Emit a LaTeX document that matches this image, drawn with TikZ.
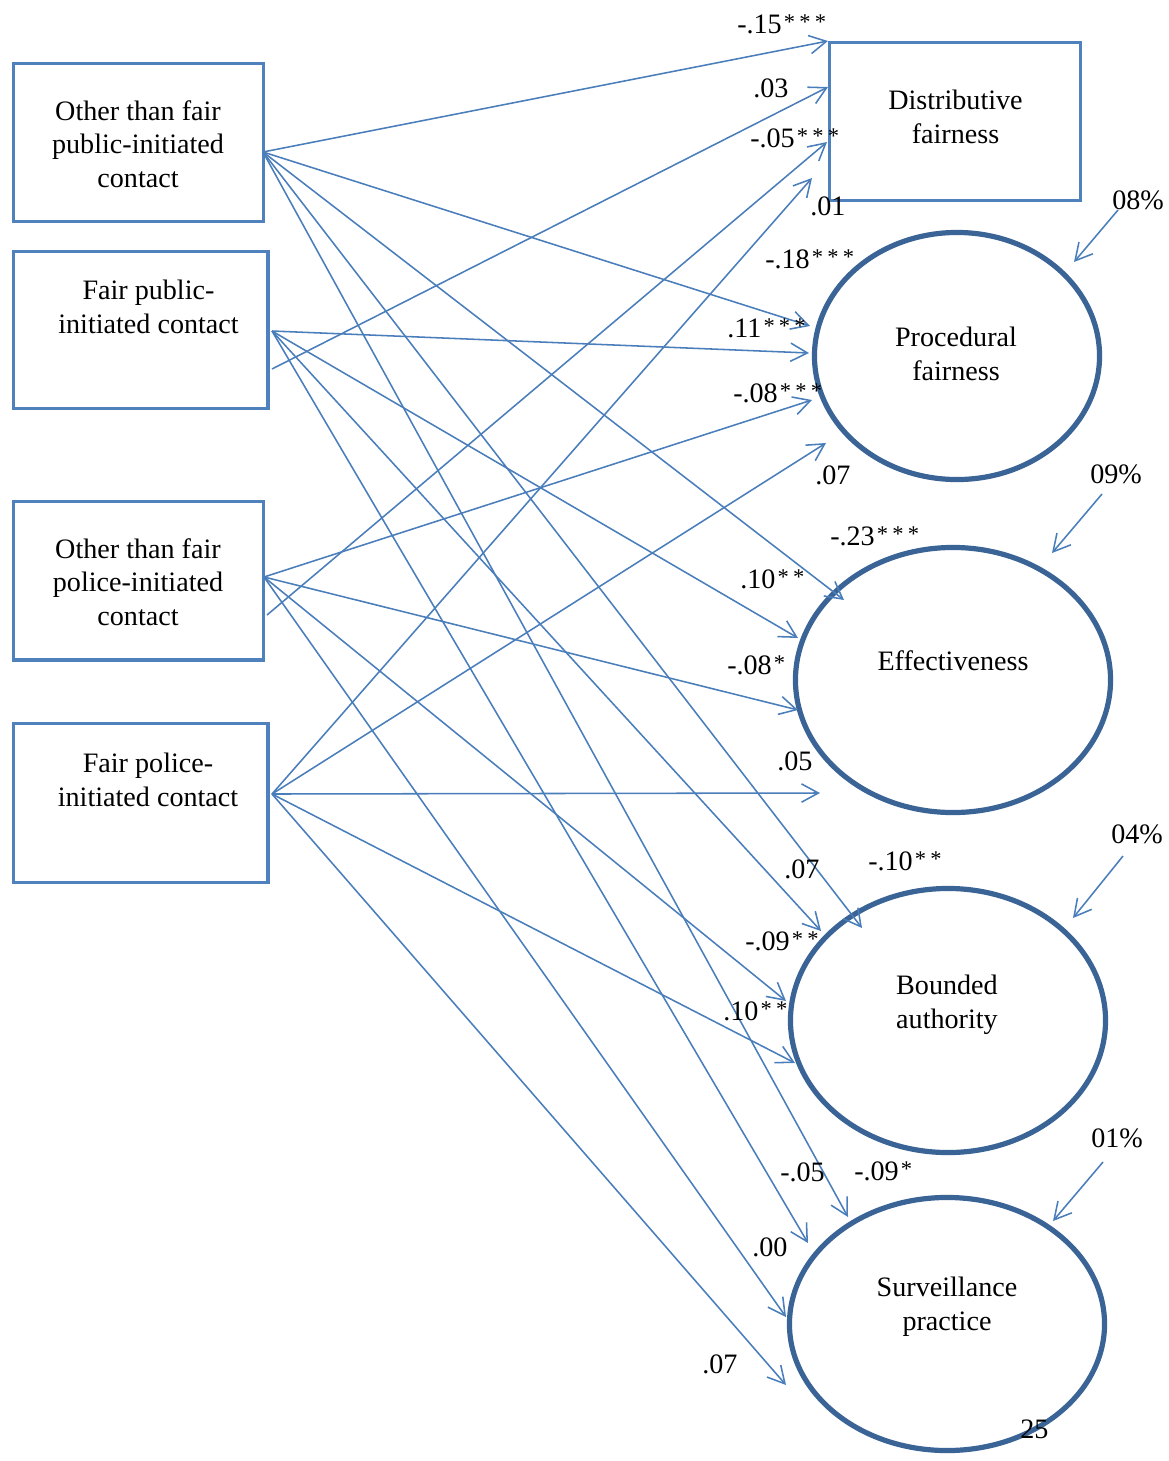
\documentclass[tikz,border=0pt]{standalone}
\usepackage{fontspec}
\setmainfont{Liberation Serif}
\usetikzlibrary{arrows.meta,shapes.geometric}
\definecolor{arr}{RGB}{74,126,187}
\definecolor{boxc}{RGB}{79,129,189}
\definecolor{ellc}{RGB}{58,99,150}
\newcommand{\sg}[1]{\hspace{1.5pt}\raisebox{2.5pt}{\fontsize{16pt}{16pt}\selectfont #1}}
\newcommand{\sa}{*}
\newcommand{\sgap}{\hspace{3pt}}
\begin{document}
\begin{tikzpicture}[x=0.025cm,y=-0.025cm,
 box/.style={draw=boxc,line width=2.3pt,rectangle,inner sep=0pt},
 ell/.style={draw=ellc,line width=3.7pt,ellipse,inner sep=0pt},
 txt/.style={font=\fontsize{20pt}{23.8pt}\selectfont,align=center,inner sep=0pt},
 lab/.style={font=\fontsize{20pt}{23.8pt}\selectfont,inner sep=0pt,anchor=base west},
 conn/.style={draw=arr,line width=1.1pt,-{Straight Barb[length=12pt,width=13pt,line width=1.1pt]}},
]
\useasboundingbox (0,0) rectangle (1169,1461);

% boxes
\node[box,minimum width=6.25cm,minimum height=3.95cm] (A) at (138.5,142.5) {};
\node[box,minimum width=6.3625cm,minimum height=3.925cm] (B) at (140.75,330) {};
\node[box,minimum width=6.25cm,minimum height=3.9625cm] (C) at (138.5,580.75) {};
\node[box,minimum width=6.3625cm,minimum height=3.975cm] (D) at (140.75,803) {};
\node[box,minimum width=6.275cm,minimum height=3.95cm] (DF) at (955,121.5) {};

% ellipses
\node[ell,minimum width=7.125cm,minimum height=6.175cm] (PF) at (957,356) {};
\node[ell,minimum width=7.875cm,minimum height=6.625cm] (EF) at (953,680) {};
\node[ell,minimum width=7.875cm,minimum height=6.6cm] (BA) at (948,1020.5) {};
\node[ell,minimum width=7.875cm,minimum height=6.325cm] (SP) at (947,1324) {};

% box and ellipse texts (anchor = baseline of last line)
\node[txt,anchor=base] (At) at (138,187) {Other than fair\\public-initiated\\contact};
\node[txt,anchor=base] (Bt) at (148.5,333) {Fair public-\\initiated contact};
\node[txt,anchor=base] (Ct) at (138,625) {Other than fair\\police-initiated\\contact};
\node[txt,anchor=base] (Dt) at (148,806) {Fair police-\\initiated contact};
\node[txt,anchor=base] (DFt) at (955.5,143) {Distributive\\fairness};
\node[txt,anchor=base] (PFt) at (956,380) {Procedural\\fairness};
\node[txt,anchor=base] (EFt) at (953,670) {Effectiveness};
\node[txt,anchor=base] (BAt) at (947,1028) {Bounded\\authority};
\node[txt,anchor=base] (SPt) at (947,1330) {Surveillance\\practice};

% connector end points
\coordinate (Ao) at (263,152);
\coordinate (Bo) at (272,331);
\coordinate (Bo2) at (272,369);
\coordinate (Co) at (264,577);
\coordinate (Co2) at (267,615);
\coordinate (Do) at (272,794);

\coordinate (DFa) at (828,41);
\coordinate (DFb) at (828,87);
\coordinate (DFc) at (827,142);
\coordinate (DFd) at (812,178);
\coordinate (PFa) at (810,326);
\coordinate (PFb) at (809,353);
\coordinate (PFc) at (812,400);
\coordinate (PFd) at (826,443);
\coordinate (EFa) at (844,600);
\coordinate (EFb) at (798,638);
\coordinate (EFc) at (798,710);
\coordinate (EFd) at (820,793);
\coordinate (BAa) at (862,928);
\coordinate (BAb) at (821,931);
\coordinate (BAc) at (786,1001);
\coordinate (BAd) at (795,1063);
\coordinate (SPa) at (848,1217);
\coordinate (SPb) at (808,1243);
\coordinate (SPc) at (786,1317);
\coordinate (SPd) at (786,1385);

% paths
\draw[conn] (Ao) -- (DFa);
\draw[conn] (Bo2) -- (DFb);
\draw[conn] (Co2) -- (DFc);
\draw[conn] (Do) -- (DFd);
\draw[conn] (Ao) -- (PFa);
\draw[conn] (Bo) -- (PFb);
\draw[conn] (Co) -- (PFc);
\draw[conn] (Do) -- (PFd);
\draw[conn] (Ao) -- (EFa);
\draw[conn] (Bo) -- (EFb);
\draw[conn] (Co) -- (EFc);
\draw[conn] (Do) -- (EFd);
\draw[conn] (Ao) -- (BAa);
\draw[conn] (Bo) -- (BAb);
\draw[conn] (Co) -- (BAc);
\draw[conn] (Do) -- (BAd);
\draw[conn] (Ao) -- (SPa);
\draw[conn] (Bo) -- (SPb);
\draw[conn] (Co) -- (SPc);
\draw[conn] (Do) -- (SPd);

% residual arrows
\coordinate (r1s) at (1118,210); \coordinate (r1e) at (1074,262);
\coordinate (r2s) at (1102,494); \coordinate (r2e) at (1052,553);
\coordinate (r3s) at (1123,856); \coordinate (r3e) at (1073,918);
\coordinate (r4s) at (1103,1162); \coordinate (r4e) at (1053,1221);
\draw[conn] (r1s) -- (r1e);
\draw[conn] (r2s) -- (r2e);
\draw[conn] (r3s) -- (r3e);
\draw[conn] (r4s) -- (r4e);

% coefficient labels
\node[lab] (l1) at (737,33) {-.15\sg{\sa\sgap\sa\sgap\sa}};
\node[lab] (l2) at (753,97) {.03};
\node[lab] (l3) at (750,147) {-.05\sg{\sa\sgap\sa\sgap\sa}};
\node[lab] (l4) at (810,215) {.01};
\node[lab] (l5) at (765,268) {-.18\sg{\sa\sgap\sa\sgap\sa}};
\node[lab] (l6) at (727,337) {.11\sg{\sa\sgap\sa\sgap\sa}};
\node[lab] (l7) at (733,402) {-.08\sg{\sa\sgap\sa\sgap\sa}};
\node[lab] (l8) at (815,484) {.07};
\node[lab] (l9) at (830,545) {-.23\sg{\sa\sgap\sa\sgap\sa}};
\node[lab] (l10) at (740,588) {.10\sg{\sa\sgap\sa}};
\node[lab] (l11) at (727,674) {-.08\sg{\sa}};
\node[lab] (l12) at (777,770) {.05};
\node[lab] (l13) at (784,878) {.07};
\node[lab] (l14) at (868,870) {-.10\sg{\sa\sgap\sa}};
\node[lab] (l15) at (745,950) {-.09\sg{\sa\sgap\sa}};
\node[lab] (l16) at (723,1020) {.10\sg{\sa\sgap\sa}};
\node[lab] (l17) at (780,1181) {-.05};
\node[lab] (l18) at (854,1180) {-.09\sg{\sa}};
\node[lab] (l19) at (752,1256) {.00};
\node[lab] (l20) at (702,1373) {.07};

% residual labels
\node[lab] (p1) at (1112,209) {08\%};
\node[lab] (p2) at (1090,483) {09\%};
\node[lab] (p3) at (1111,843) {04\%};
\node[lab] (p4) at (1091,1147) {01\%};
\node[lab] (n25) at (1020,1438) {25};
\end{tikzpicture}
\end{document}
